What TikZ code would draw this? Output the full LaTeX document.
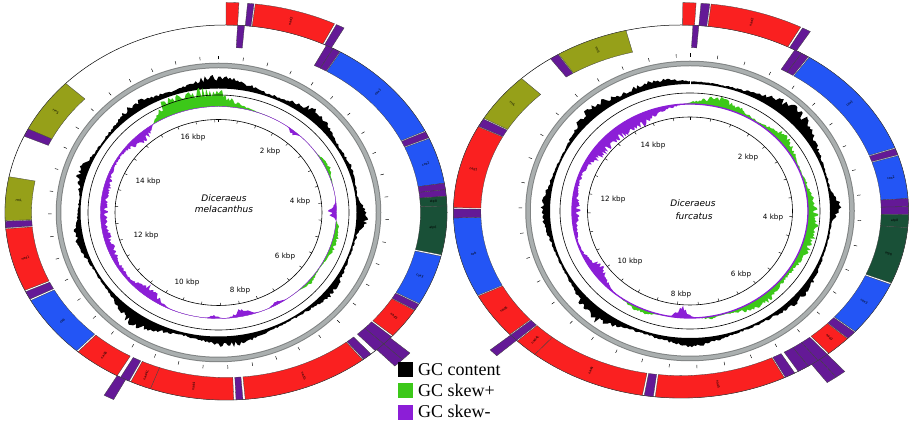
\documentclass[tikz,border=0pt]{standalone}
\usepackage{fontspec}
\setmainfont{Liberation Serif}
\setsansfont{DejaVu Sans}
\definecolor{gred}{RGB}{250,32,32}
\definecolor{gblue}{RGB}{35,85,245}
\definecolor{gdgreen}{RGB}{25,80,55}
\definecolor{golive}{RGB}{150,160,25}
\definecolor{gtrna}{RGB}{100,25,150}
\definecolor{skp}{RGB}{60,200,25}
\definecolor{skm}{RGB}{140,30,215}
\definecolor{ringc}{RGB}{170,175,175}
\newcommand\setcirc[4]{\def\CX{#1}\def\CY{#2}\def\RX{#3}\def\RY{#4}}
\newcommand\sect[5]{%
 \filldraw[fill=#5, draw=black!75, line width=0.3pt]
 ({\CX+(#4)*\RX*sin(#1)},{\CY+(#4)*\RY*cos(#1)})
 arc[start angle={90-(#1)}, end angle={90-(#2)}, x radius={(#4)*\RX}, y radius={(#4)*\RY}]
 -- ({\CX+(#3)*\RX*sin(#2)},{\CY+(#3)*\RY*cos(#2)})
 arc[start angle={90-(#2)}, end angle={90-(#1)}, x radius={(#3)*\RX}, y radius={(#3)*\RY}]
 -- cycle;}
\newcommand\gin[3]{\sect{#1}{#2}{0.88}{1}{#3}}
\newcommand\gout[3]{\sect{#1}{#2}{1}{1.12}{#3}}
\newcommand\glab[3]{%
 \pgfmathsetmacro\rot{(#1)<180 ? 90-(#1) : 270-(#1)}%
 \node[genelab, rotate=\rot] at ({\CX+(#2)*\RX*sin(#1)},{\CY+(#2)*\RY*cos(#1)}) {#3};}
% smooth bump (centre, half width) of the angle \t, for \fpeval
\newcommand\vb[2]{exp((cosd(\t-(#1))-1)*16400/((#2)^2))}
\newcommand\nzA{(0.76+0.15*sind(7919*sind(37*\t+3))+0.09*sind(4999*cosd(29*\t+11)))}
\newcommand\nzB{(0.76+0.15*sind(6911*cosd(41*\t+10))+0.09*sind(3917*sind(23*\t+70)))}
\newcommand\nzC{(0.72+0.18*sind(5903*sind(31*\t+7))+0.1*sind(4421*cosd(43*\t+19)))}
% build the three plot paths: #1 gc base rx, #2 gc base ry, #3 skew base rx, #4 skew base ry
\newcommand\buildplots[4]{%
 \gdef\gcp{}\gdef\grp{}\gdef\pup{}%
 \foreach \i in {0,...,480}{%
  \edef\t{\fpeval{\i*0.75}}%
  \edef\g{\fpeval{\gcfun}}%
  \edef\s{\fpeval{\skfun}}%
  \edef\sp{\fpeval{max(0,\s)}}%
  \edef\sm{\fpeval{min(0,\s)}}%
  \ifnum\i=0 \def\sep{}\else\def\sep{--}\fi
  \xdef\gcp{\gcp\sep(\fpeval{round(\ICX+(#1+\g)*sind(\t),2)},\fpeval{round(\ICY+(#2+\g)*cosd(\t),2)})}%
  \xdef\grp{\grp\sep(\fpeval{round(\ICX+(#3+\sp)*sind(\t),2)},\fpeval{round(\ICY+(#4+\sp)*cosd(\t),2)})}%
  \xdef\pup{\pup\sep(\fpeval{round(\ICX+(#3+\sm)*sind(\t),2)},\fpeval{round(\ICY+(#4+\sm)*cosd(\t),2)})}%
 }%
 \edef\tmp{\noexpand\fill[black,even odd rule] \gcp -- cycle (\ICX,\ICY) ellipse[x radius=#1,y radius=#2];
  \noexpand\fill[skp,even odd rule] \grp -- cycle (\ICX,\ICY) ellipse[x radius=#3,y radius=#4];
  \noexpand\fill[skm,even odd rule] \pup -- cycle (\ICX,\ICY) ellipse[x radius=#3,y radius=#4];}%
 \tmp}
\begin{document}
\begin{tikzpicture}[x=1pt,y=1pt,
 genelab/.style={font=\sffamily\fontsize{3.2}{3.2}\selectfont, inner sep=0pt},
 kbp/.style={font=\sffamily\fontsize{7.2}{8}\selectfont, inner sep=0pt},
 spec/.style={font=\sffamily\itshape\fontsize{9}{10}\selectfont, inner sep=0pt},
 leg/.style={font=\fontsize{18}{18}\selectfont, inner sep=0pt, anchor=base west},
 tk/.style={line width=0.45pt}]
\useasboundingbox (0,0) rectangle (913,422);
\fill[white] (0,0) rectangle (913,422);

% ================= LEFT CIRCLE =================
\def\ICX{218.5}\def\ICY{209.5}
\def\gcfun{\nzA*(2.5+12*\vb{0}{22}+10*\vb{42}{18}+3*\vb{70}{10}+11*\vb{92}{9}+6*\vb{128}{16}+9*\vb{175}{20}+13*\vb{215}{18}+7*\vb{258}{14}+9*\vb{288}{10}+8*\vb{325}{18})}
\def\skfun{\nzC*(20*min(1,1.8*\vb{348}{25})+5*\vb{65}{10}+6*\vb{105}{18}+4*\vb{130}{8}-5*\vb{40}{4}-10*\vb{90}{6}-4*\vb{150}{5}-9*\vb{168}{7}-4*\vb{182}{4}-12*\vb{218}{12}-8*min(1,1.5*\vb{265}{45})-13*\vb{318}{14})}
\buildplots{138}{124}{118}{106}
\draw[line width=0.6pt] (\ICX,\ICY) ellipse[x radius=130.5,y radius=117.5];
\draw[skm,line width=0.4pt] (\ICX,\ICY) ellipse[x radius=118,y radius=106];
\draw[line width=0.6pt] (\ICX,\ICY) ellipse[x radius=103.5,y radius=93];
\foreach \k in {0,...,34}{\pgfmathsetmacro\t{\k*10.5263}
 \draw[tk] ({\ICX+103.5*sin(\t)},{\ICY+93*cos(\t)}) -- ({\ICX+100.5*sin(\t)},{\ICY+90.3*cos(\t)});}
\draw[ringc!75!black,line width=5.5pt] (\ICX,\ICY) ellipse[x radius=160,y radius=147];
\draw[ringc,line width=3.5pt] (\ICX,\ICY) ellipse[x radius=160,y radius=147];
\foreach \k in {0,...,42}{\pgfmathsetmacro\t{\k*8.4211}
 \draw[tk] ({\ICX+167*sin(\t)},{\ICY+153*cos(\t)}) -- ({\ICX+170.5*sin(\t)},{\ICY+156.5*cos(\t)});}
\node[kbp] at (193,284) {16 kbp};
\node[kbp] at (270,270) {2 kbp};
\node[kbp] at (148,240) {14 kbp};
\node[kbp] at (300,220) {4 kbp};
\node[kbp] at (146,186) {12 kbp};
\node[kbp] at (285,165) {6 kbp};
\node[kbp] at (187,139) {10 kbp};
\node[kbp] at (240,131) {8 kbp};
\node[spec] at (224,224) {Diceraeus};
\node[spec] at (224,213) {melacanthus};
\setcirc{226}{209.5}{221}{187.5}
\draw[line width=0.5pt] (\CX,\CY) ellipse[x radius=\RX,y radius=\RY];
\gout{0}{3}{gred}
\gin{3}{4.8}{gtrna}
\gout{5}{6.5}{gtrna}
\gout{6.8}{26}{gred}
\gout{26.5}{28.5}{gtrna}
\gin{27}{29}{gtrna}\gin{29}{31}{gtrna}
\gin{31.2}{64.2}{gblue}
\gin{64.5}{66.5}{gtrna}
\gin{66.8}{81}{gblue}
\gin{81}{83}{gtrna}\gin{83}{85}{gtrna}
\gin{85}{88}{gdgreen}
\gin{88}{103}{gdgreen}
\gin{103.5}{119}{gblue}
\gin{119.3}{121.3}{gtrna}
\gin{121.5}{131}{gred}
\gout{132}{134.5}{gtrna}\gout{134.5}{137}{gtrna}
\gin{131.5}{134.5}{gtrna}\gin{134.5}{137.5}{gtrna}
\gin{139}{141.5}{gtrna}
\gin{141.8}{175}{gred}
\gin{175.6}{177.4}{gtrna}
\gin{178}{200}{gred}
\gin{200}{205.5}{gred}
\gin{206}{208.5}{gtrna}
\gout{207}{209.5}{gtrna}
\gin{209.5}{222}{gred}
\gin{222.5}{242}{gblue}
\gin{242.5}{245}{gtrna}
\gin{245.5}{265}{gred}
\gin{265.3}{267.3}{gtrna}
\gin{267.5}{281}{golive}
\gin{294}{296.5}{gtrna}
\gin{296.5}{313.5}{golive}
\glab{16}{1.06}{nad2}
\glab{47}{0.94}{cox1}
\glab{74}{0.94}{cox2}
\glab{86.5}{0.94}{atp8}
\glab{95}{0.94}{atp6}
\glab{111}{0.94}{cox3}
\glab{126}{0.94}{nad3}
\glab{158}{0.94}{nad5}
\glab{189}{0.94}{nad4}
\glab{202.7}{0.94}{nad4L}
\glab{216}{0.94}{nad6}
\glab{232}{0.94}{cob}
\glab{255}{0.94}{nad1}
\glab{274}{0.94}{rrnL}
\glab{305}{0.94}{rrnS}

% ================= RIGHT CIRCLE =================
\def\ICX{690}\def\ICY{211}
\def\gcfun{\nzB*(2.5+7*\vb{345}{18}+15*\vb{45}{24}+11*\vb{88}{8}+6*\vb{130}{20}+8*\vb{180}{18}+13*\vb{220}{18}+7*\vb{270}{18}+11*\vb{318}{18})}
\def\skfun{\nzC*(12*\vb{15}{20}+12*\vb{50}{15}+12*\vb{100}{35}+10*\vb{145}{20}+5*\vb{205}{12}+3*\vb{170}{6}-12*\vb{184}{6}-12*\vb{235}{15}-9*\vb{270}{20}-15*min(1,1.5*\vb{320}{35}))}
\buildplots{140}{127}{118}{107}
\draw[white,line width=0.8pt] (\ICX,\ICY+126) -- (\ICX,\ICY+146);
\draw[line width=0.6pt] (\ICX,\ICY) ellipse[x radius=130,y radius=118];
\draw[skm,line width=1.3pt] (\ICX,\ICY) ellipse[x radius=118,y radius=107];
\draw[line width=0.6pt] (\ICX,\ICY) ellipse[x radius=102.5,y radius=94];
\foreach \k in {0,...,30}{\pgfmathsetmacro\t{\k*11.6883}
 \draw[tk] ({\ICX+102.5*sin(\t)},{\ICY+94*cos(\t)}) -- ({\ICX+99.5*sin(\t)},{\ICY+91.2*cos(\t)});}
\draw[ringc!75!black,line width=5.5pt] (\ICX,\ICY) ellipse[x radius=162,y radius=147.5];
\draw[ringc,line width=3.5pt] (\ICX,\ICY) ellipse[x radius=162,y radius=147.5];
\foreach \k in {0,...,38}{\pgfmathsetmacro\t{\k*9.3506}
 \draw[tk] ({\ICX+168*sin(\t)},{\ICY+154*cos(\t)}) -- ({\ICX+171.5*sin(\t)},{\ICY+157.5*cos(\t)});}
\node[kbp] at (653,276) {14 kbp};
\node[kbp] at (748,264) {2 kbp};
\node[kbp] at (613,222) {12 kbp};
\node[kbp] at (773,204) {4 kbp};
\node[kbp] at (630,160) {10 kbp};
\node[kbp] at (741,147) {6 kbp};
\node[kbp] at (681,127) {8 kbp};
\node[spec] at (693,219) {Diceraeus};
\node[spec] at (694,206) {furcatus};
\setcirc{681}{210.5}{227.5}{186.5}
\draw[line width=0.5pt] (\CX,\CY) ellipse[x radius=\RX,y radius=\RY];
\gout{0.4}{3.4}{gred}
\gin{3}{4.5}{gtrna}
\gout{4.5}{6.5}{gtrna}
\gout{6.8}{28}{gred}
\gout{28.5}{30.5}{gtrna}
\gin{30}{32}{gtrna}\gin{32}{34}{gtrna}
\gin{34.3}{70}{gblue}
\gin{70.3}{72.3}{gtrna}
\gin{72.6}{86}{gblue}
\gin{86}{88.5}{gtrna}\gin{88.5}{91}{gtrna}
\gin{91}{95}{gdgreen}
\gin{95}{112.5}{gdgreen}
\gin{113}{130}{gblue}
\gin{130.3}{132.8}{gtrna}
\gin{133}{139.5}{gred}
\gout{140}{142.5}{gtrna}\gout{142.5}{145}{gtrna}
\gin{140}{143}{gtrna}\gin{143}{146}{gtrna}\gin{146}{149}{gtrna}
\gin{150}{152.7}{gtrna}
\gin{153}{186.5}{gred}
\gin{187}{189.3}{gtrna}
\gin{189.8}{220}{gred}
\gin{220}{226}{gred}
\gin{226.3}{228.5}{gtrna}
\gout{226.3}{228.5}{gtrna}
\gin{228.8}{243}{gred}
\gin{243.3}{268}{gblue}
\gin{268}{270.8}{gtrna}
\gin{271.2}{297}{gred}
\gin{297.2}{299.7}{gtrna}
\gin{300}{315.5}{golive}
\gin{325}{327.3}{gtrna}
\gin{327.5}{346}{golive}
\glab{17}{1.06}{nad2}
\glab{52}{0.94}{cox1}
\glab{79}{0.94}{cox2}
\glab{93}{0.94}{atp8}
\glab{104}{0.94}{atp6}
\glab{121}{0.94}{cox3}
\glab{136}{0.94}{nad3}
\glab{170}{0.94}{nad5}
\glab{205}{0.94}{nad4}
\glab{223}{0.94}{nad4L}
\glab{236}{0.94}{nad6}
\glab{256}{0.94}{cob}
\glab{284}{0.94}{nad1}
\glab{308}{0.94}{rrnL}
\glab{337}{0.94}{rrnS}

% ================= LEGEND =================
\fill[black] (398,45) rectangle (413,60);
\fill[skp] (398,24) rectangle (413,39);
\fill[skm] (398,2) rectangle (413,17);
\node[leg] at (418,46) {GC content};
\node[leg] at (418,25) {GC skew+};
\node[leg] at (418,4) {GC skew-};
\end{tikzpicture}
\end{document}
